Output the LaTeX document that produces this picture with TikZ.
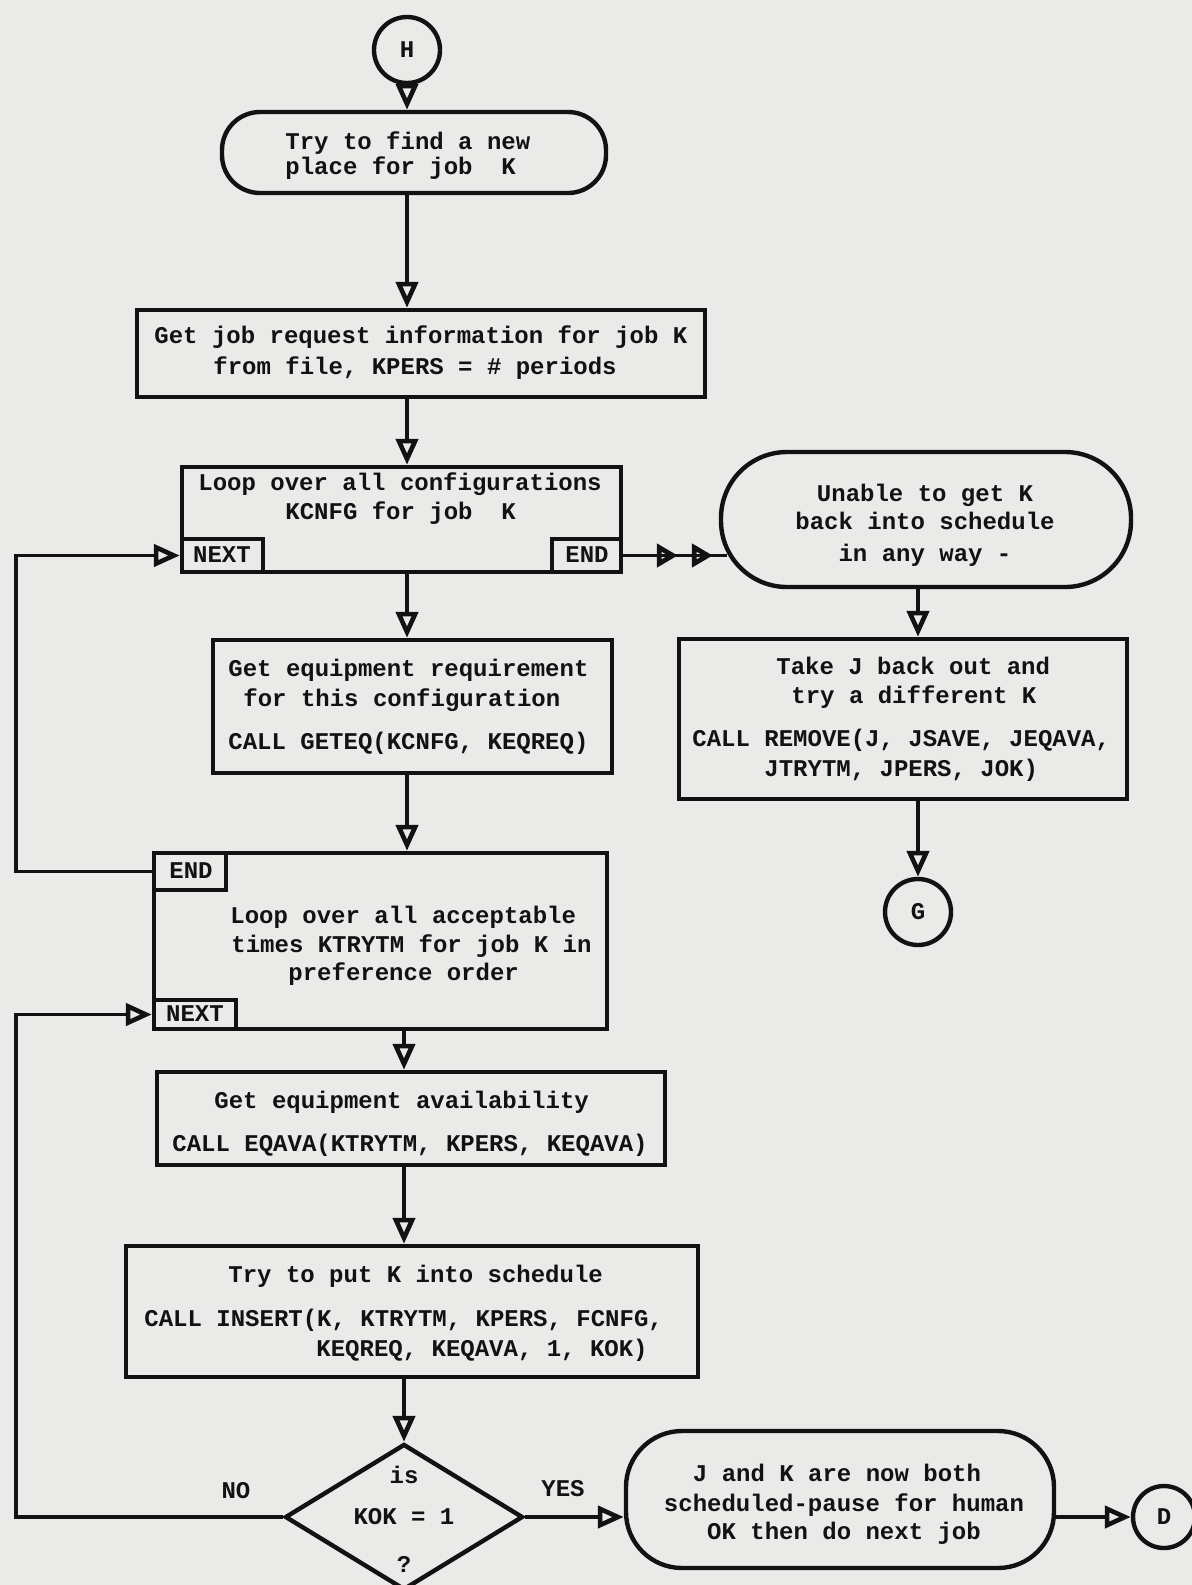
\documentclass[tikz,border=0pt]{standalone}
\usepackage{fontspec}
\newfontfamily\tw{Liberation Mono}
\usetikzlibrary{arrows.meta,shapes.geometric,fit,calc}
\definecolor{paper}{RGB}{234,234,232}
\definecolor{ink}{RGB}{18,18,18}
\begin{document}
\begin{tikzpicture}[x=0.5pt,y=-0.5pt,
  ln/.style={line width=2.2pt, draw=ink},
  conn/.style={line width=1.9pt, draw=ink, line join=miter},
  arr/.style={conn, -{Triangle[open,length=13pt,width=11pt,line width=2.3pt]}},
  arrtwo/.style={conn, -{Triangle[open,length=10.5pt,width=11.5pt,line width=2.4pt,sep=7pt]Triangle[open,length=10.5pt,width=11.5pt,line width=2.4pt]}},
  boxf/.style={ln, rectangle, inner sep=0pt},
  term/.style={ln, rectangle, inner sep=0pt, rounded corners=#1},
  txt/.style={font=\tw\bfseries\fontsize{12}{14.5}\selectfont, inner sep=0pt, text=ink, text height=8.5pt, text depth=2.5pt},
  circ/.style={ln, circle, minimum size=33pt, inner sep=0pt, font=\tw\bfseries\fontsize{12}{14.5}\selectfont, text=ink},
]
\fill[paper] (0,0) rectangle (1192,1585);
\useasboundingbox (0,0) rectangle (1192,1585);

% ---------- nodes ----------
\node[circ] (H) at (407,50) {H};

\node[term=19pt, fit={(222,112) (606,193)}] (T1) {};
\node[txt, anchor=west] (T1a) at (285,143) {Try to find a new};
\node[txt, anchor=west] (T1b) at (285,168) {place for job\ \ K};

\node[boxf, fit={(137,310) (705,397)}] (B2) {};
\node[txt, anchor=west] (B2a) at (154,337) {Get job request information for job K};
\node[txt, anchor=west] (B2b) at (213,368) {from file, KPERS = \# periods};

\node[boxf, fit={(182,467) (621,572)}] (B3) {};
\node[txt, anchor=west] (B3a) at (198,484) {Loop over all configurations};
\node[txt, anchor=west] (B3b) at (285,513) {KCNFG for job\ \ K};
\node[boxf, fit={(182,539) (263,572)}] (N3) {};
\node[txt] (N3t) at (222,556) {NEXT};
\node[boxf, fit={(552,539) (621,572)}] (E3) {};
\node[txt] (E3t) at (587,556) {END};

\node[term=33pt, fit={(721,452) (1131,587)}] (T2) {};
\node[txt] (T2a) at (925,495) {Unable to get K};
\node[txt] (T2b) at (925,523) {back into schedule};
\node[txt] (T2c) at (925,555) {in any way -};

\node[boxf, fit={(213,640) (612,773)}] (B4) {};
\node[txt, anchor=west] (B4a) at (228,670) {Get equipment requirement};
\node[txt, anchor=west] (B4b) at (243,700) {for this configuration};
\node[txt, anchor=west] (B4c) at (228,743) {CALL GETEQ(KCNFG, KEQREQ)};

\node[boxf, fit={(679,639) (1127,799)}] (B5) {};
\node[txt, anchor=west] (B5a) at (776,668) {Take J back out and};
\node[txt, anchor=west] (B5b) at (791,697) {try a different K};
\node[txt, anchor=west] (B5c) at (692,740) {CALL REMOVE(J, JSAVE, JEQAVA,};
\node[txt, anchor=west] (B5d) at (764,770) {JTRYTM, JPERS, JOK)};

\node[circ] (G) at (918,912) {G};

\node[boxf, fit={(154,853) (607,1029)}] (B6) {};
\node[boxf, fit={(154,853) (226,890)}] (E6) {};
\node[txt] (E6t) at (191,872) {END};
\node[txt, anchor=west] (B6a) at (230,917) {Loop over all acceptable};
\node[txt, anchor=west] (B6b) at (231,946) {times KTRYTM for job K in};
\node[txt, anchor=west] (B6c) at (288,974) {preference order};
\node[boxf, fit={(154,1000) (236,1029)}] (N6) {};
\node[txt] (N6t) at (195,1015) {NEXT};

\node[boxf, fit={(157,1072) (665,1165)}] (B7) {};
\node[txt, anchor=west] (B7a) at (214,1102) {Get equipment availability};
\node[txt, anchor=west] (B7b) at (172,1145) {CALL EQAVA(KTRYTM, KPERS, KEQAVA)};

\node[boxf, fit={(126,1246) (698,1377)}] (B8) {};
\node[txt, anchor=west] (B8a) at (228,1276) {Try to put K into schedule};
\node[txt, anchor=west] (B8b) at (144,1320) {CALL INSERT(K, KTRYTM, KPERS, FCNFG,};
\node[txt, anchor=west] (B8c) at (316,1350) {KEQREQ, KEQAVA, 1, KOK)};

\node[ln, diamond, minimum width=119pt, minimum height=73pt, inner sep=0pt] (DI) at (404,1517) {};
\node[txt] (DIa) at (404,1477) {is};
\node[txt] (DIb) at (404,1518) {KOK = 1};
\node[txt] (DIc) at (404,1566) {?};

\node[term=28pt, fit={(626,1431) (1054,1568)}] (T3) {};
\node[txt] (T3a) at (837,1475) {J and K are now both};
\node[txt] (T3b) at (844,1505) {scheduled-pause for human};
\node[txt] (T3c) at (844,1533) {OK then do next job};

\node[circ, minimum size=31pt] (D) at (1164,1517) {D};

\node[txt] (NO) at (236,1492) {NO};
\node[txt] (YES) at (563,1490) {YES};

\coordinate (L) at (16,0);

% ---------- connectors ----------
\draw[arr] (H.south) -- (T1.north -| H);
\draw[arr] (T1.south -| H) -- (B2.north -| H);
\draw[arr] (B2.south -| H) -- (B3.north -| H);
\draw[arr] (B3.south -| H) -- (B4.north -| H);
\draw[arr] (B4.south -| H) -- (B6.north -| H);
\draw[arr] (B6.south -| DI) -- (B7.north -| DI);
\draw[arr] (B7.south -| DI) -- (B8.north -| DI);
\draw[arr] (B8.south -| DI) -- (DI.north);

\draw[conn, shorten >=-4pt] (E3.east) -- (E3.east -| T2.west);
\draw[arrtwo, shorten >=3pt] (E3.east) -- (E3.east -| T2.west);
\draw[arr] (T2.south -| G) -- (B5.north -| G);
\draw[arr] (B5.south -| G) -- (G.north);

\draw[arr] (E6.west) -- (E6.west -| L) |- (N3.west);
\draw[arr] (DI.west) -- (DI.west -| L) |- (N6.west);
\draw[arr] (DI.east) -- (DI.east -| T3.west);
\draw[arr] (T3.east |- D) -- (D.west);
\end{tikzpicture}
\end{document}
